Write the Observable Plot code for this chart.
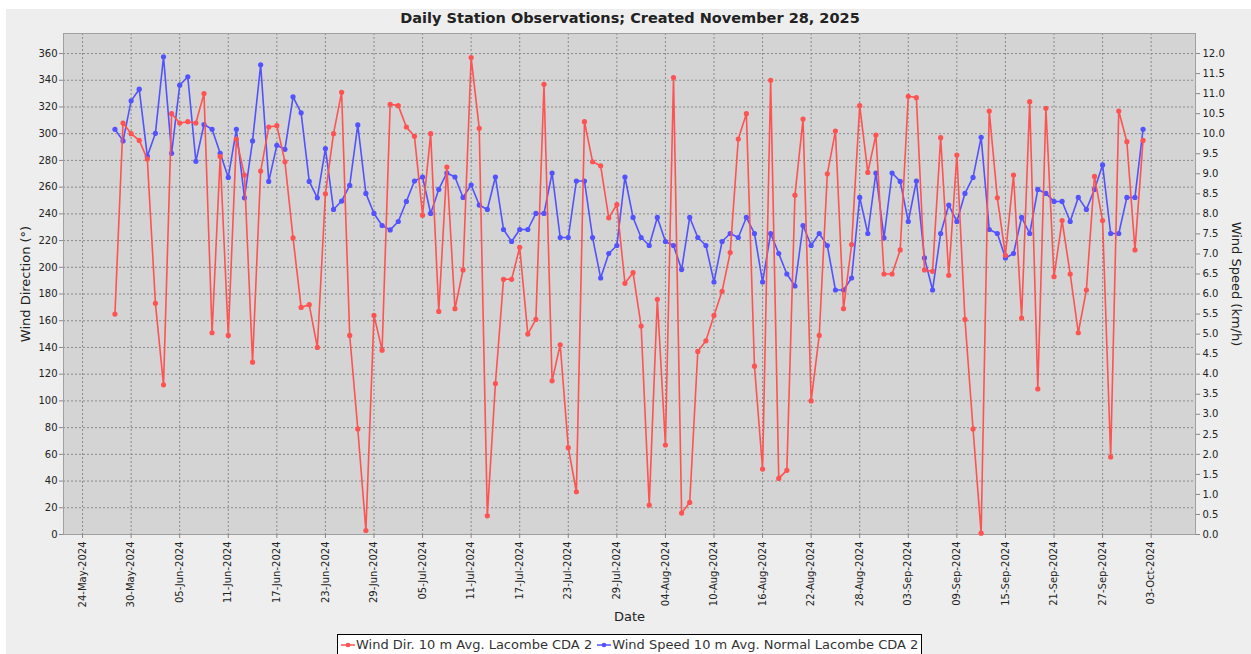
<!DOCTYPE html>
<html>
<head>
<meta charset="utf-8">
<script src="https://cdn.jsdelivr.net/npm/d3@7"></script>
<script src="https://cdn.jsdelivr.net/npm/@observablehq/plot@0.6"></script>
<style>
  html, body { margin: 0; padding: 0; background: #ffffff; width: 1251px; height: 654px; overflow: hidden; }
  #panel { position: absolute; left: 6px; top: 9px; right: 0; bottom: 0; background: #eeeeee; }
  #chart { position: absolute; left: 0; top: 0; }
  #title { position: absolute; top: 9px; left: 0; width: 1260px; text-align: center; font: bold 14.5px "DejaVu Sans", sans-serif; color: #222; line-height: 18px; }
  #legend { position: absolute; left: 337px; top: 634px; width: 585px; height: 30px; border: 1px solid #000; background: #fff; font: 13px "DejaVu Sans", sans-serif; color: #333; white-space: nowrap; padding-left: 2px; box-sizing: border-box; line-height: 19px; }
  #legend svg { vertical-align: -1px; }
</style>
</head>
<body>
<div id="panel"></div>
<div id="chart"></div>
<div id="title">Daily Station Observations; Created November 28, 2025</div>
<div id="legend"></div>
<script>
// Wind direction (degrees), daily, 28 May 2024 .. 02 Oct 2024
const dirMay = [165, 308, 300, 295];
const dirJun = [281, 173, 112, 315, 308, 309, 308, 330, 151, 283,
                149, 296, 269, 129, 272, 305, 306, 279, 222, 170,
                172, 140, 255, 300, 331, 149, 79, 3, 164, 138];
const dirJul = [322, 321, 305, 298, 239, 300, 167, 275, 169, 198,
                357, 304, 14, 113, 191, 191, 215, 150, 161, 337,
                115, 142, 65, 32, 309, 279, 276, 237, 247, 188, 196];
const dirAug = [156, 22, 176, 67, 342, 16, 24, 137, 145, 164,
                182, 211, 296, 315, 126, 49, 340, 42, 48, 254,
                311, 100, 149, 270, 302, 169, 217, 321, 271, 299, 195];
const dirSep = [195, 213, 328, 327, 198, 197, 297, 194, 284, 161,
                79, 1, 317, 252, 209, 269, 162, 324, 109, 319,
                193, 235, 195, 151, 183, 268, 235, 58, 317, 294];
const dirOct = [213, 295];

// Wind speed (km/h), daily, same dates
const spdMay = [10.11, 9.82, 10.82, 11.11];
const spdJun = [9.44, 10.01, 11.92, 9.51, 11.21, 11.42, 9.31, 10.23, 10.11, 9.51,
                8.91, 10.11, 8.40, 9.82, 11.72, 8.81, 9.71, 9.61, 10.92, 10.52,
                8.81, 8.40, 9.63, 8.11, 8.32, 8.71, 10.22, 8.51, 8.01, 7.71];
const spdJul = [7.60, 7.81, 8.31, 8.82, 8.92, 8.01, 8.61, 9.02, 8.92, 8.41,
                8.72, 8.22, 8.11, 8.92, 7.61, 7.31, 7.61, 7.61, 8.01, 8.01,
                9.02, 7.41, 7.41, 8.82, 8.82, 7.41, 6.40, 7.01, 7.21, 8.92, 7.91];
const spdAug = [7.41, 7.21, 7.91, 7.31, 7.21, 6.61, 7.91, 7.41, 7.21, 6.30,
                7.31, 7.51, 7.41, 7.91, 7.51, 6.30, 7.51, 7.01, 6.50, 6.20,
                7.71, 7.21, 7.51, 7.21, 6.10, 6.10, 6.40, 8.41, 7.51, 9.02, 7.40];
const spdSep = [9.02, 8.81, 7.81, 8.82, 6.90, 6.10, 7.51, 8.22, 7.81, 8.51,
                8.91, 9.91, 7.61, 7.51, 6.90, 7.01, 7.91, 7.51, 8.61, 8.51,
                8.31, 8.31, 7.81, 8.41, 8.11, 8.61, 9.22, 7.51, 7.51, 8.41];
const spdOct = [8.41, 10.11];

const firstDay = "2024-05-28";
const lastDayExclusive = "2024-10-03";

const xTickLabels = ["2024-05-24", "2024-05-30", "2024-06-05", "2024-06-11", "2024-06-17",
  "2024-06-23", "2024-06-29", "2024-07-05", "2024-07-11", "2024-07-17", "2024-07-23",
  "2024-07-29", "2024-08-04", "2024-08-10", "2024-08-16", "2024-08-22", "2024-08-28",
  "2024-09-03", "2024-09-09", "2024-09-15", "2024-09-21", "2024-09-27", "2024-10-03"];
const dirTicks = [0, 20, 40, 60, 80, 100, 120, 140, 160, 180, 200, 220, 240, 260, 280, 300, 320, 340, 360];
const speedTicks = [0, 0.5, 1, 1.5, 2, 2.5, 3, 3.5, 4, 4.5, 5, 5.5, 6, 6.5, 7, 7.5, 8, 8.5, 9, 9.5, 10, 10.5, 11, 11.5, 12];

const seriesNames = ["Wind Dir. 10 m Avg. Lacombe CDA 2", "Wind Speed 10 m Avg. Normal Lacombe CDA 2"];
const seriesColors = ["#ff5252", "#5252ff"];

// ---- build table ----
const dirs = [...dirMay, ...dirJun, ...dirJul, ...dirAug, ...dirSep, ...dirOct];
const spds = [...spdMay, ...spdJun, ...spdJul, ...spdAug, ...spdSep, ...spdOct];
const dates = d3.utcDay.range(new Date(firstDay), new Date(lastDayExclusive));
const SPEED_TO_DIR = 30; // 12 km/h on the right axis aligns with 360° on the left
const rows = dates.map((d, i) => ({date: d, dir: dirs[i], spd: spds[i] * SPEED_TO_DIR}));
const xTicks = xTickLabels.map(s => new Date(s));
const fmt = d3.utcFormat("%d-%b-%Y");

const font = '"DejaVu Sans", sans-serif';

const chart = Plot.plot({
  width: 1251,
  height: 654,
  marginTop: 33,
  marginBottom: 120,
  marginLeft: 63,
  marginRight: 56,
  style: {background: "transparent", fontFamily: font, fontSize: "10px", color: "#222", overflow: "visible"},
  x: {type: "utc", domain: [new Date("2024-05-21T15:30Z"), new Date("2024-10-08T11:30Z")]},
  y: {domain: [0, 375]},
  marks: [
    Plot.frame({fill: "#d4d4d4", stroke: null}),
    Plot.gridX(xTicks, {stroke: "#8a8a8a", strokeOpacity: 1, strokeDasharray: "2,2"}),
    Plot.gridY(dirTicks, {stroke: "#8a8a8a", strokeOpacity: 1, strokeDasharray: "2,2"}),
    Plot.frame({stroke: "#a0a0a0"}),
    Plot.axisX({ticks: xTicks, tickFormat: fmt, tickRotate: -90, tickSize: 4, tickPadding: 3, label: null, stroke: "#888"}),
    Plot.axisY({anchor: "left", ticks: dirTicks, tickSize: 4, tickPadding: 2, label: null, stroke: "#888"}),
    Plot.axisY({anchor: "right", ticks: speedTicks.map(s => s * SPEED_TO_DIR), tickFormat: d => (d / SPEED_TO_DIR).toFixed(1), tickSize: 4, tickPadding: 3, label: null, stroke: "#888"}),
    Plot.text(["Wind Direction (°)"], {frameAnchor: "left", textAnchor: "middle", dx: -38, rotate: -90, fontSize: 13, fill: "#222"}),
    Plot.text(["Wind Speed (km/h)"], {frameAnchor: "right", textAnchor: "middle", dx: 41, rotate: 90, fontSize: 13, fill: "#222"}),
    Plot.text(["Date"], {frameAnchor: "bottom", dy: 86, fontSize: 13, fill: "#222"}),
    Plot.line(rows, {x: "date", y: "spd", stroke: seriesColors[1], strokeWidth: 1.6}),
    Plot.dot(rows, {x: "date", y: "spd", fill: seriesColors[1], r: 2.6}),
    Plot.line(rows, {x: "date", y: "dir", stroke: seriesColors[0], strokeWidth: 1.6}),
    Plot.dot(rows, {x: "date", y: "dir", fill: seriesColors[0], r: 2.6})
  ]
});
document.getElementById("chart").appendChild(chart);

// legend
const legend = document.getElementById("legend");
seriesNames.forEach((name, i) => {
  const span = document.createElement("span");
  span.style.marginRight = "4px";
  span.innerHTML = `<svg width="16" height="10"><line x1="1" y1="5" x2="15" y2="5" stroke="${seriesColors[i]}" stroke-width="1.5"/><circle cx="8" cy="5" r="2.3" fill="${seriesColors[i]}"/></svg>${name}`;
  legend.appendChild(span);
});
</script>
</body>
</html>
